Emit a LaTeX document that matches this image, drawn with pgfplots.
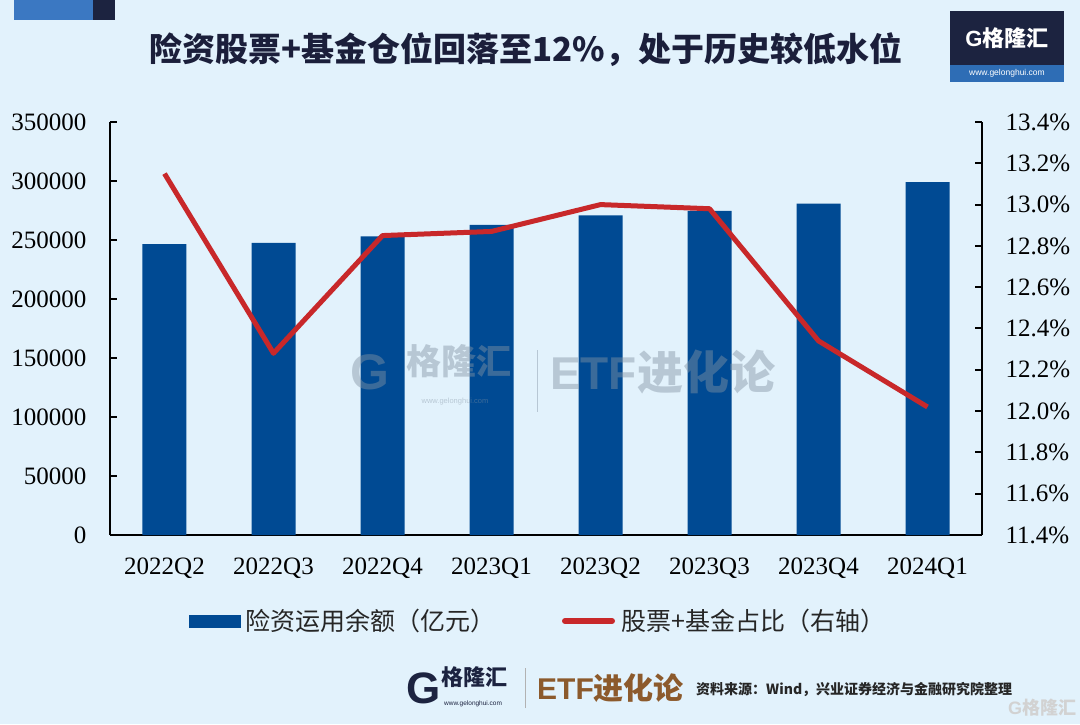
\documentclass[border=0pt]{standalone}
\usepackage{fontspec}
\setmainfont{Liberation Serif}
\setsansfont{Liberation Sans}
\newfontfamily\cjk{Noto Sans CJK SC}
\usepackage{pgfplots}
\pgfplotsset{compat=1.18}
\definecolor{bg}{HTML}{E2F2FC}
\definecolor{barblue}{HTML}{004A93}
\definecolor{linered}{HTML}{C8282A}
\definecolor{navy}{HTML}{1B1F3B}
\definecolor{logonavy}{HTML}{1C2340}
\definecolor{logoblue}{HTML}{2E6DB5}
\definecolor{hdrblue}{HTML}{3B78C2}
\definecolor{etfbrown}{HTML}{8C5A2C}
\definecolor{wm}{HTML}{8494A4}
\begin{document}
\begin{tikzpicture}
\useasboundingbox (0,0) rectangle (1080pt,724pt);
\fill[bg] (0,0) rectangle (1080pt,724pt);
% header decorations
\fill[hdrblue] (14pt,704pt) rectangle (93pt,724pt);
\fill[logonavy] (93pt,704pt) rectangle (115pt,724pt);
% title
\node[font=\cjk\bfseries\fontsize{33}{33}\selectfont, text=navy] at (526pt,674pt) {险资股票+基金仓位回落至12\%，处于历史较低水位};
% top-right logo
\fill[logonavy] (950pt,642pt) rectangle (1064pt,713pt);
\fill[logoblue] (950pt,642pt) rectangle (1064pt,659pt);
\node[text=white, font=\sffamily\fontsize{8.5}{8.5}\selectfont, inner sep=0pt] at (1007pt,650.5pt) {www.gelonghui.com};
\node[text=white, font=\cjk\bfseries\fontsize{22}{22}\selectfont, inner sep=0pt] at (1007pt,686pt) {{\sffamily\bfseries G}格隆汇};

% main axis (bars)
\begin{axis}[
  at={(110pt,189pt)}, anchor=south west,
  scale only axis, width=872pt, height=413pt,
  xmin=-0.5, xmax=7.5, ymin=0, ymax=350000,
  axis x line*=bottom, axis y line*=left,
  axis line style={line width=2pt, black, -},
  xtick={0,1,2,3,4,5,6,7},
  xticklabels={2022Q2,2022Q3,2022Q4,2023Q1,2023Q2,2023Q3,2023Q4,2024Q1},
  x tick style={draw=none},
  ytick={0,50000,100000,150000,200000,250000,300000,350000},
  yticklabels={0,50000,100000,150000,200000,250000,300000,350000},
  scaled y ticks=false,
  tick align=inside, major tick length=7pt,
  y tick style={line width=2pt, black},
  tick label style={font=\fontsize{25}{25}\selectfont, text=black},
  yticklabel style={xshift=-20pt},
  xticklabel style={yshift=-19pt},
  clip=false,
]
\addplot[ybar, bar width=44pt, fill=barblue, draw=none] coordinates {
(0,246500) (1,247600) (2,253000) (3,262900) (4,270800) (5,274700) (6,280900) (7,299000)};
\end{axis}

% secondary axis (line)
\begin{axis}[
  at={(110pt,189pt)}, anchor=south west,
  scale only axis, width=872pt, height=413pt,
  xmin=-0.5, xmax=7.5, ymin=11.4, ymax=13.4,
  axis y line*=right, axis x line=none,
  axis line style={line width=2pt, black, -},
  ytick={11.4,11.6,11.8,12.0,12.2,12.4,12.6,12.8,13.0,13.2,13.4},
  yticklabels={11.4\%,11.6\%,11.8\%,12.0\%,12.2\%,12.4\%,12.6\%,12.8\%,13.0\%,13.2\%,13.4\%},
  tick align=inside, major tick length=7pt,
  y tick style={line width=2pt, black},
  tick label style={font=\fontsize{25}{25}\selectfont, text=black},
  yticklabel style={xshift=20pt},
  clip=false,
]
\addplot[linered, line width=5pt, line join=round, mark=none] coordinates {
(0,13.15) (1,12.28) (2,12.85) (3,12.87) (4,13.00) (5,12.98) (6,12.34) (7,12.02)};
\end{axis}

% central watermark
\begin{scope}[opacity=0.45]
\node[text=wm, font=\sffamily\bfseries\fontsize{50}{50}\selectfont, inner sep=0pt] at (370pt,352pt) {G};
\node[text=wm, font=\cjk\bfseries\fontsize{35}{35}\selectfont, inner sep=0pt] at (459pt,363pt) {格隆汇};
\node[text=wm, font=\sffamily\fontsize{7.5}{7.5}\selectfont, inner sep=0pt] at (455pt,322pt) {www.gelonghui.com};
\draw[wm, line width=1pt] (537pt,312pt) -- (537pt,374pt);
\node[text=wm, font=\cjk\bfseries\fontsize{46}{46}\selectfont, anchor=west, inner sep=0pt] at (550pt,352pt) {{\sffamily\bfseries ETF}进化论};
\end{scope}

% legend
\fill[barblue] (189pt,96pt) rectangle (241pt,109pt);
\node[anchor=west, inner sep=0pt, text=black!85, font=\cjk\fontsize{25}{25}\selectfont] at (245pt,103pt) {险资运用余额（亿元）};
\draw[linered, line width=6pt, line cap=round] (565pt,103pt) -- (612pt,103pt);
\node[anchor=west, inner sep=0pt, text=black!85, font=\cjk\fontsize{25}{25}\selectfont] at (621pt,103pt) {股票+基金占比（右轴）};

% footer
\node[text=logonavy, font=\sffamily\bfseries\fontsize{44}{44}\selectfont, inner sep=0pt] at (424pt,36pt) {G};
\node[text=logonavy, font=\cjk\bfseries\fontsize{22}{22}\selectfont, anchor=west, inner sep=0pt] at (441pt,47pt) {格隆汇};
\node[text=logonavy, font=\sffamily\fontsize{6.5}{6.5}\selectfont, anchor=west, inner sep=0pt] at (444pt,20pt) {www.gelonghui.com};
\draw[gray!60, line width=0.8pt] (525pt,16pt) -- (525pt,56pt);
\node[text=etfbrown, font=\cjk\bfseries\fontsize{30}{30}\selectfont, anchor=west, inner sep=0pt] at (537pt,36pt) {{\sffamily\bfseries ETF}进化论};
\node[text=black!85, font=\cjk\bfseries\fontsize{14}{14}\selectfont, anchor=west, inner sep=0pt] at (696pt,34pt) {资料来源：Wind，兴业证券经济与金融研究院整理};
\node[text=gray!35, font=\cjk\bfseries\fontsize{18}{18}\selectfont, inner sep=0pt] at (1042pt,16pt) {{\sffamily\bfseries G}格隆汇};
\end{tikzpicture}
\end{document}
